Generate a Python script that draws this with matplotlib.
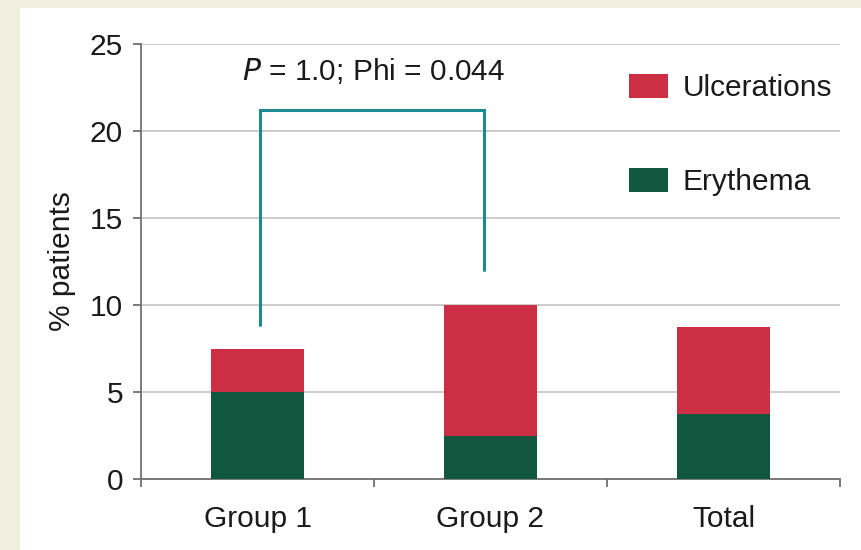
import matplotlib.pyplot as plt
from matplotlib.patches import Rectangle

plt.rcParams['font.family'] = ['Liberation Sans', 'DejaVu Sans']

groups = ['Group 1', 'Group 2', 'Total']
erythema = [5.0, 2.5, 3.75]
ulcerations = [2.5, 7.5, 5.0]
y_ticks = [0, 5, 10, 15, 20, 25]

# significance bracket between Group 1 and Group 2
bracket_x = [0.01, 0.01, 0.97, 0.97]
bracket_y = [8.85, 21.2, 21.2, 12.0]
stat_text = '$\\mathit{P}$ = 1.0; Phi = 0.044'

red = '#cc2e43'
green = '#115740'
teal = '#1a8a93'
fs = 21.5

fig = plt.figure(figsize=(8.61, 5.5), dpi=100)
fig.patch.set_facecolor('#f1eee0')
fig.patches.append(Rectangle((20 / 861, 0), 1, 1 - 8 / 550,
                             transform=fig.transFigure, facecolor='white',
                             edgecolor='none', zorder=-10))

ax = fig.add_axes([141 / 861, 71 / 550, 699 / 861, 435 / 550])
ax.set_facecolor('none')

x = list(range(len(groups)))
ax.bar(x, erythema, width=0.4, color=green, label='Erythema', zorder=3)
ax.bar(x, ulcerations, width=0.4, bottom=erythema, color=red,
       label='Ulcerations', zorder=3)

ax.plot(bracket_x, bracket_y, color=teal, lw=2.2, zorder=4,
        solid_joinstyle='miter', solid_capstyle='round')
ax.text(0.5, 23.45, stat_text, ha='center', va='center', fontsize=fs,
        color='#1a1a1a')

ax.set_xlim(-0.5, 2.5)
ax.set_ylim(0, 25)
ax.set_yticks(y_ticks)
ax.set_xticks([-0.5, 0.5, 1.5, 2.5])
ax.set_xticklabels([])
ax.set_xticks(x, minor=True)
ax.set_xticklabels(groups, minor=True)
ax.tick_params(axis='x', which='minor', length=0, pad=19, labelsize=fs,
               labelcolor='#1a1a1a')
ax.tick_params(axis='x', which='major', length=6, width=1.3,
               color='#707070')
ax.tick_params(axis='y', length=6, width=1.3, color='#707070', pad=7,
               labelsize=fs, labelcolor='#1a1a1a')

ax.grid(axis='y', color='#cccccc', lw=1.4, zorder=0)
for s in ['top', 'right']:
    ax.spines[s].set_visible(False)
for s in ['left', 'bottom']:
    ax.spines[s].set_color('#707070')
    ax.spines[s].set_linewidth(1.3)

ax.set_ylabel('% patients', fontsize=fs, color='#1a1a1a', labelpad=10)

handles, labels = ax.get_legend_handles_labels()
leg = ax.legend(handles[::-1], labels[::-1], loc='upper left',
                bbox_to_anchor=(629 / 861, 1 - 74 / 550),
                bbox_transform=fig.transFigure, frameon=False, fontsize=fs,
                handlelength=1.3, handleheight=0.85, handletextpad=0.5,
                labelspacing=2.2, borderpad=0, borderaxespad=0)
for t in leg.get_texts():
    t.set_color('#1a1a1a')

fig.savefig('out.png', dpi=100)
